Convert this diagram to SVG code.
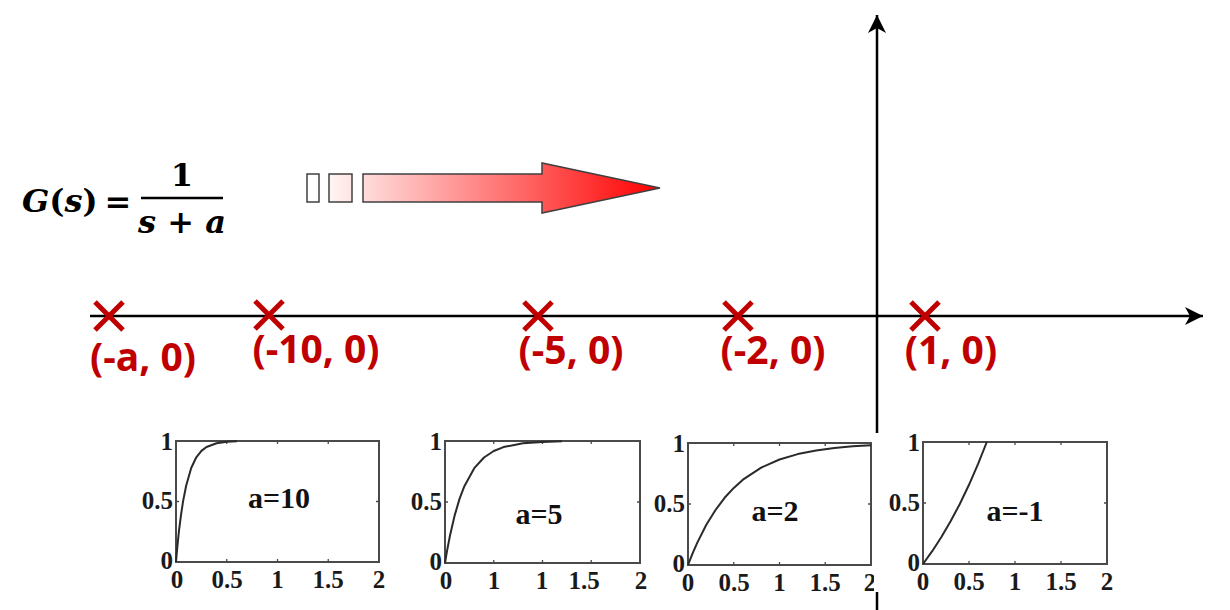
<svg xmlns="http://www.w3.org/2000/svg" width="1230" height="610" viewBox="0 0 1230 610">
<style>
.fm{font-family:"DejaVu Serif","Liberation Serif",serif;font-size:32px;font-weight:bold;fill:#000}
.it{font-style:italic}
.pole{stroke:#C00000;stroke-width:5;stroke-linecap:butt;fill:none}
.pl{font-family:"Open Sans","Noto Sans",sans-serif;font-weight:bold;font-size:39px;fill:#C00000;text-anchor:middle}
.ax{stroke:#000;stroke-width:2.5;fill:none}
.frame{fill:none;stroke:#4a4a4a;stroke-width:2}
.tick{stroke:#4a4a4a;stroke-width:1.3}
.curve{fill:none;stroke:#2a2a2a;stroke-width:2;stroke-linejoin:round}
.tl{font-family:"Liberation Serif","Times New Roman",serif;font-weight:bold;font-size:25px;fill:#1a1a1a}
.ya{text-anchor:end}
.xa{text-anchor:middle}
.al{font-family:"Liberation Serif","Times New Roman",serif;font-weight:bold;font-size:30px;fill:#111;text-anchor:middle}
.hint{stroke:#404040;stroke-width:1.5}
</style>
<defs>
<linearGradient id="rg" gradientUnits="userSpaceOnUse" x1="315" y1="0" x2="660" y2="0">
<stop offset="0" stop-color="#ffffff"/>
<stop offset="1" stop-color="#ff0000"/>
</linearGradient>
<marker id="ah" viewBox="0 0 20 18" refX="18" refY="9" markerWidth="20" markerHeight="18" markerUnits="userSpaceOnUse" orient="auto">
<path d="M0,0 L18,9 L0,18 L5,9 Z" fill="#000"/>
</marker>
</defs>
<rect width="1230" height="610" fill="#fff"/>

<g id="formula">
<text class="fm" x="22" y="212" font-size="29"><tspan class="it">G</tspan>(<tspan class="it">s</tspan>)</text>
<text class="fm" x="118" y="213" text-anchor="middle" font-size="36">=</text>
<line x1="141" y1="198" x2="223" y2="198" stroke="#000" stroke-width="2.5"/>
<text class="fm" x="182" y="186" text-anchor="middle">1</text>
<text class="fm" x="182" y="233" text-anchor="middle" font-size="30"><tspan class="it">s</tspan> + <tspan class="it">a</tspan></text>
</g>

<g id="direction-arrow">
<rect class="hint" x="307" y="174" width="12" height="28" fill="url(#rg)"/>
<rect class="hint" x="329" y="174" width="23" height="28" fill="url(#rg)"/>
<path class="hint" d="M363,174 L542,174 L542,163 L660,188 L542,213 L542,202 L363,202 Z" fill="url(#rg)"/>
</g>

<g id="connectors">
<line class="ax" x1="90" y1="316" x2="1203" y2="316" marker-end="url(#ah)"/>
<line class="ax" x1="877" y1="612" x2="877" y2="15" marker-end="url(#ah)"/>
</g>

<g id="pole-a">
<path class="pole" d="M95,302 L123,330 M123,302 L95,330"/>
<text class="pl" x="143" y="371">(-a, 0)</text>
</g>
<g id="pole-10">
<path class="pole" d="M255,301 L283,329 M283,301 L255,329"/>
<text class="pl" x="316" y="363">(-10, 0)</text>
</g>
<g id="pole-5">
<path class="pole" d="M524,302 L552,330 M552,302 L524,330"/>
<text class="pl" x="571" y="364">(-5, 0)</text>
</g>
<g id="pole-2">
<path class="pole" d="M724,302 L752,330 M752,302 L724,330"/>
<text class="pl" x="773" y="364">(-2, 0)</text>
</g>
<g id="pole-1">
<path class="pole" d="M911,302 L939,330 M939,302 L911,330"/>
<text class="pl" x="951" y="364">(1, 0)</text>
</g>

<g id="plot-a10">
<rect class="frame" x="176" y="441" width="203" height="121"/>
<path class="tick" d="M226.75,562v-3M277.5,562v-3M328.25,562v-3M226.75,441v3M277.5,441v3M328.25,441v3M176,501.5h3M379,501.5h-3"/>
<polyline class="curve" points="176,562 177,550.5 178,540.1 179,530.7 181.1,514.4 183.1,501.1 186.2,485.5 191.2,468 196.3,457.3 201.4,450.9 206.5,447 216.6,443.2 226.8,441.8 237,441.3"/>
<text class="tl ya" x="173" y="450">1</text>
<text class="tl ya" x="173" y="509">0.5</text>
<text class="tl ya" x="173" y="569">0</text>
<text class="tl xa" x="177" y="588">0</text>
<text class="tl xa" x="227" y="588">0.5</text>
<text class="tl xa" x="277.5" y="588">1</text>
<text class="tl xa" x="328" y="588">1.5</text>
<text class="tl xa" x="379" y="588">2</text>
<text class="al" x="279" y="508">a=10</text>
</g>

<g id="plot-a5">
<rect class="frame" x="445" y="441" width="195" height="122"/>
<path class="tick" d="M493.75,563v-3M542.5,563v-3M591.25,563v-3M493.75,441v3M542.5,441v3M591.25,441v3M445,502h3M640,502h-3"/>
<polyline class="curve" points="445,563 446.95,551.4 449.9,536 454.75,515.1 459.6,498.6 464.5,485.9 474.25,468.2 484,457.5 493.75,451 503.5,447.1 523,443.2 542.5,441.9 562,441.3"/>
<text class="tl ya" x="442" y="450">1</text>
<text class="tl ya" x="442" y="510">0.5</text>
<text class="tl ya" x="442" y="570">0</text>
<text class="tl xa" x="446" y="589">0</text>
<text class="tl xa" x="494" y="589">1</text>
<text class="tl xa" x="542" y="589">1</text>
<text class="tl xa" x="584" y="589">1.5</text>
<text class="tl xa" x="641" y="589">2</text>
<text class="al" x="539" y="524">a=5</text>
</g>

<g id="plot-a2">
<rect class="frame" x="688" y="443" width="183" height="122"/>
<path class="tick" d="M733.75,565v-3M779.5,565v-3M825.25,565v-3M733.75,443v3M779.5,443v3M825.25,443v3M688,504h3M871,504h-3"/>
<polyline class="curve" points="688,565 692.6,553.4 697.2,542.9 706.3,524.7 715.5,510 724.6,497.8 733.8,487.9 742.9,479.7 761.2,467.6 779.5,459.5 797.8,454.1 816.1,450.4 834.4,448 852.7,446.3 871,445.2"/>
<text class="tl ya" x="685" y="452">1</text>
<text class="tl ya" x="685" y="512">0.5</text>
<text class="tl ya" x="685" y="572">0</text>
<text class="tl xa" x="688" y="591">0</text>
<text class="tl xa" x="734" y="591">0.5</text>
<text class="tl xa" x="779.5" y="591">1</text>
<text class="tl xa" x="825" y="591">1.5</text>
<text class="tl xa" x="870" y="591">2</text>
<text class="al" x="775" y="521">a=2</text>
</g>

<g id="plot-a-1">
<rect x="874" y="433" width="241" height="159" fill="#fff"/>
<rect class="frame" x="923" y="442" width="184" height="122"/>
<path class="tick" d="M969,564v-3M1015,564v-3M1061,564v-3M969,442v3M1015,442v3M1061,442v3M923,503h3M1107,503h-3"/>
<polyline class="curve" points="923,564 932.2,551.2 941.4,537 950.6,521.3 959.8,504 969,484.8 978.2,463.7 986.8,442"/>
<text class="tl ya" x="920" y="451">1</text>
<text class="tl ya" x="920" y="511">0.5</text>
<text class="tl ya" x="920" y="571">0</text>
<text class="tl xa" x="923" y="590">0</text>
<text class="tl xa" x="969" y="590">0.5</text>
<text class="tl xa" x="1015" y="590">1</text>
<text class="tl xa" x="1061" y="590">1.5</text>
<text class="tl xa" x="1107" y="590">2</text>
<text class="al" x="1015" y="521">a=-1</text>
</g>
</svg>
